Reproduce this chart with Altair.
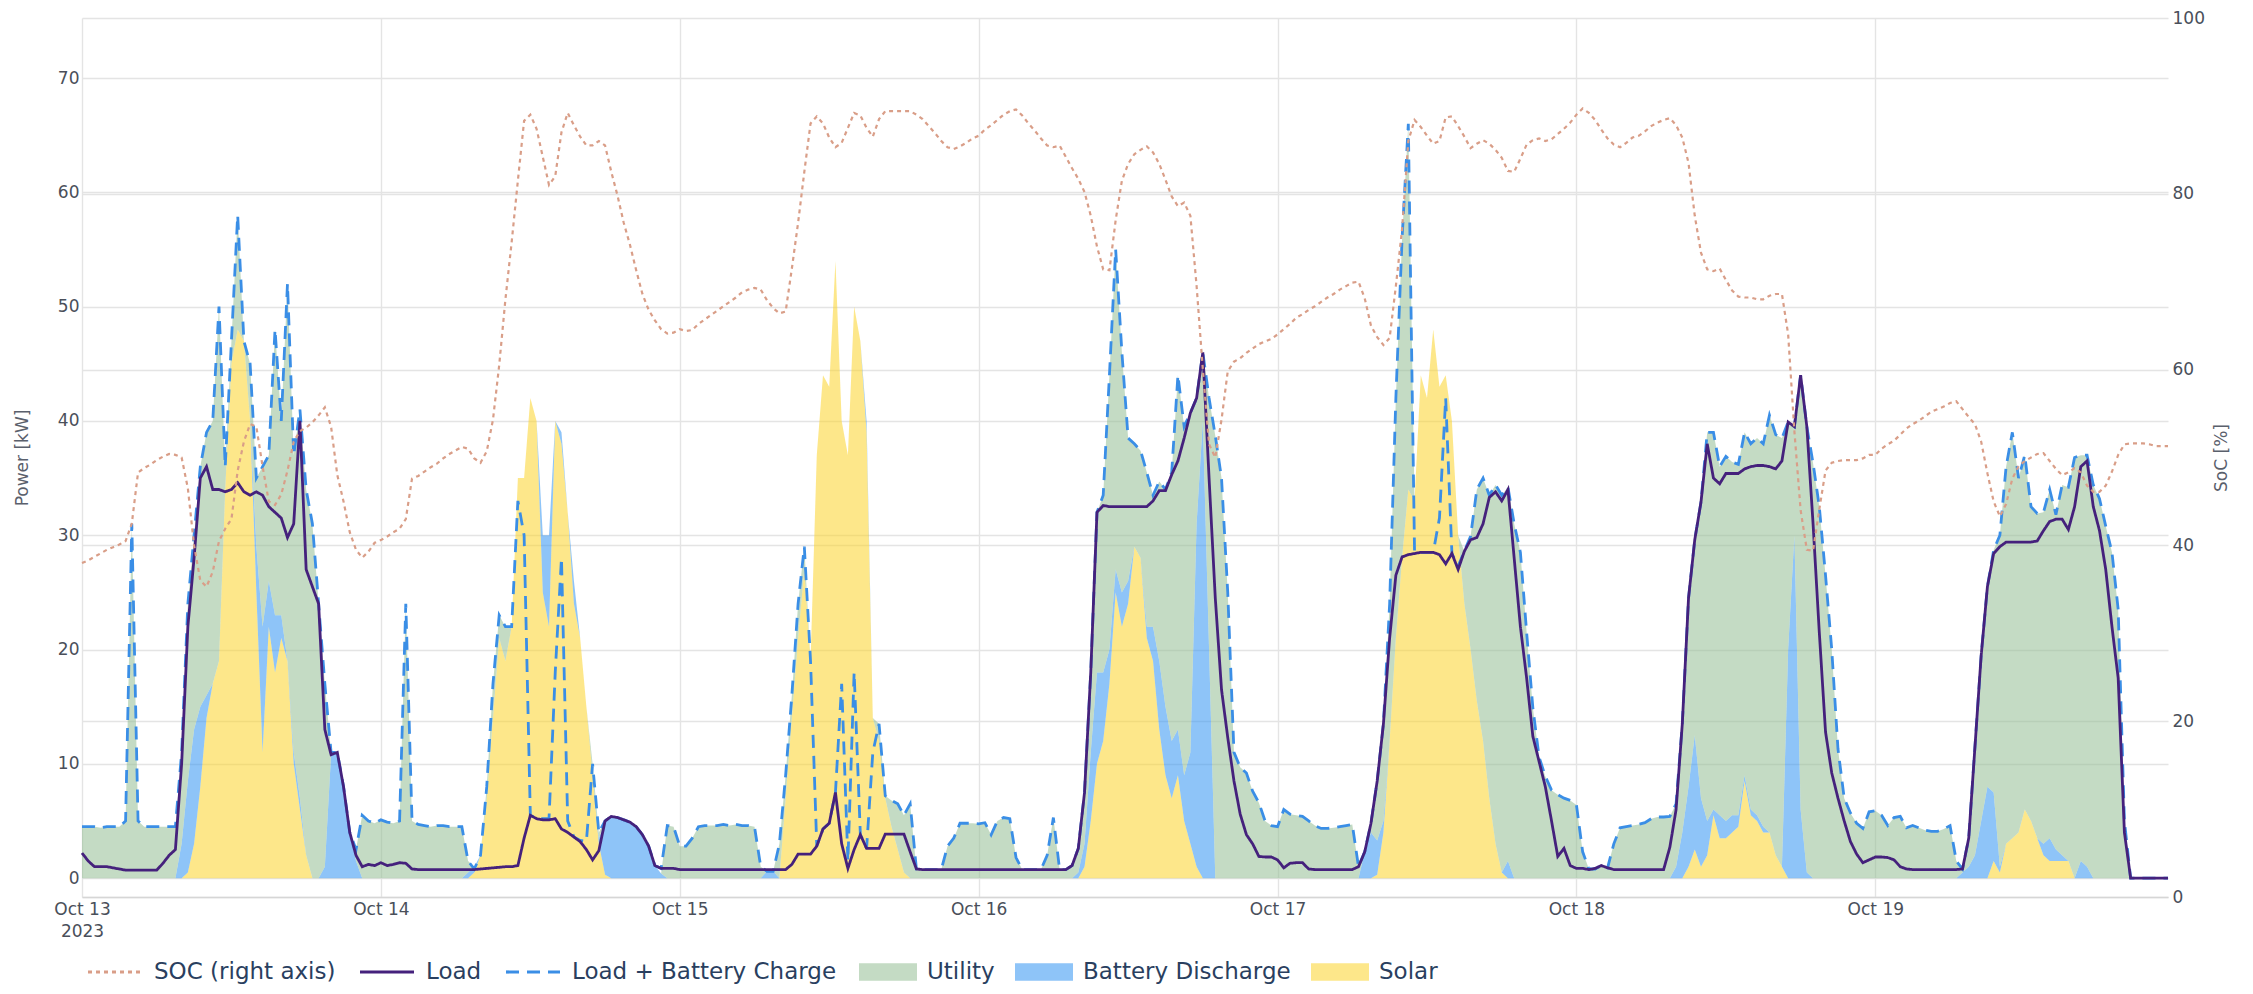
import altair as alt
import pandas as pd

# ---------------- data (half-hour samples, Oct 13 00:00 .. Oct 19 23:30) ----------------
load_plus_charge_kw = [
    # Oct 13
    [4.5,4.5,4.5,4.4,4.5,4.5,4.5,5.0,31,5.0,4.5,4.5,4.5,4.5,4.5,4.5,11,24,30,36,39,40,50,36,47,58,47,45,35,36,37,48,40,52,37,41,34,31,24,17,11,11,8,4,2.5,5.5,5.0,4.8],
    # Oct 14
    [5.1,4.9,4.8,5.0,24,5.0,4.7,4.6,4.5,4.6,4.6,4.5,4.5,4.5,1.5,0.8,2,8,17,23,22,22,33,30,5.5,5.2,5.2,5.2,18,28,5.0,3.6,3.3,3.2,10,4,5.0,5.4,5.3,5.1,4.9,4.5,3.8,2.8,1.1,0.85,4.6,4.5],
    # Oct 15
    [2.8,2.8,3.5,4.5,4.6,4.6,4.6,4.7,4.6,4.7,4.6,4.6,4.5,1.0,0.6,0.6,3,9,16,24,29,19,2.8,4.3,4.8,7.5,17,1.5,18,3.8,2.6,11,13.5,7.2,6.8,6.5,5.5,6.5,0.8,0.75,0.75,0.75,0.75,2.8,3.5,4.8,4.8,4.8],
    # Oct 16
    [4.75,4.85,3.8,5.0,5.3,5.2,1.8,0.75,0.75,0.75,0.75,2,5.3,0.75,0.75,1.1,2.6,7.5,18,32,33.5,44,55,46,38.5,38,37.4,35.5,33.5,34.7,34,35.5,44,39.5,40.7,42,46,42,38.7,35,25,11,9.7,9.2,7.6,6.6,5,4.6],
    # Oct 17
    [4.5,6,5.6,5.5,5.4,5,4.6,4.35,4.35,4.4,4.5,4.6,4.7,1.0,2.3,4.8,8.5,13.5,24,42,56,66,28.5,28.5,28.5,28.5,31.5,42,28.4,27.3,28.6,29.9,34,35,33.5,34.4,33.5,34.2,31,28.5,21.5,14.9,10.6,8.9,7.7,7.3,7,6.8],
    # Oct 18
    [6.4,2.3,0.8,0.8,1.1,0.9,3,4.4,4.5,4.6,4.7,4.85,5.2,5.35,5.35,5.4,6.5,13.5,24.5,29.6,32.9,39,39,36,36.9,36.4,36.2,39,38,38.5,38,40.5,38.8,38.5,39.9,39.5,44,39.5,36.3,32.5,26.5,20,11.3,7,5.7,4.8,4.35,5.8],
    # Oct 19
    [5.9,5.5,4.6,5.3,5.4,4.4,4.6,4.4,4.2,4.1,4.1,4.3,4.6,1.5,0.8,3.5,11.5,19.5,25.5,28.7,30,36,39,35,37,32.5,31.9,32,34,31.8,34.4,34.2,36.8,37,37,34.4,33.2,30.8,28.5,23.5,5,0,0,0,0,0,0,0],
]

load_kw = [
    [2.2,1.5,1.0,1.0,1.0,0.9,0.8,0.7,0.7,0.7,0.7,0.7,0.7,1.3,2.0,2.5,10,22,28,35,36,34,34,33.8,34,34.6,33.8,33.5,33.8,33.5,32.5,32,31.5,29.8,31,40,27,25.5,24,13,10.8,11,8,4,2,1.0,1.2,1.1],
    [1.35,1.1,1.2,1.35,1.3,0.8,0.75,0.75,0.75,0.75,0.75,0.75,0.75,0.75,0.75,0.75,0.8,0.85,0.9,0.95,1.0,1.0,1.1,3.5,5.5,5.2,5.1,5.1,5.2,4.3,4.0,3.6,3.2,2.5,1.6,2.4,5.0,5.4,5.3,5.1,4.9,4.5,3.8,2.8,1.1,0.85,0.85,0.85],
    [0.75,0.75,0.75,0.75,0.75,0.75,0.75,0.75,0.75,0.75,0.75,0.75,0.75,0.75,0.75,0.75,0.75,0.75,1.2,2.1,2.1,2.1,2.8,4.3,4.8,7.5,3,0.85,2.5,3.8,2.6,2.6,2.6,3.85,3.85,3.85,3.85,2.3,0.8,0.75,0.75,0.75,0.75,0.75,0.75,0.75,0.75,0.75],
    [0.75,0.75,0.75,0.75,0.75,0.75,0.75,0.75,0.75,0.75,0.75,0.75,0.75,0.75,0.75,1.1,2.6,7.5,18,32,32.6,32.5,32.5,32.5,32.5,32.5,32.5,32.5,33,33.9,33.9,35.3,36.5,38.5,40.7,42,46,35,24.5,16.5,12.3,8.5,5.6,3.8,3,1.9,1.85,1.85],
    [1.6,0.9,1.3,1.35,1.35,0.8,0.75,0.75,0.75,0.75,0.75,0.75,0.75,1.0,2.3,4.8,8.5,13.5,21,26.5,28.1,28.3,28.4,28.5,28.5,28.5,28.3,27.5,28.4,27,28.6,29.6,29.8,31,33.3,33.8,33,34,28,22,17.5,12.4,10.2,8,5,1.9,2.6,1.1],
    [0.85,0.85,0.75,0.85,1.1,0.9,0.75,0.75,0.75,0.75,0.75,0.75,0.75,0.75,0.75,2.7,6,13.5,24.5,29.6,32.9,38,35,34.5,35.4,35.4,35.4,35.8,36,36.1,36.1,36,35.8,36.5,39.9,39.5,44,39.5,31,21.5,12.8,9.2,7,5,3.2,2.1,1.35,1.6],
    [1.85,1.85,1.8,1.6,1.0,0.8,0.75,0.75,0.75,0.75,0.75,0.75,0.75,0.75,0.8,3.5,11.5,19.5,25.5,28.4,29,29.4,29.4,29.4,29.4,29.4,29.5,30.4,31.2,31.4,31.4,30.5,32.5,36,36.5,32.5,30.4,27,22,17.5,4,0,0,0,0,0,0,0],
]

solar_kw = [
    [0]*17 + [0.5,3,8,14,17,19,34,45,48,47,40,25,11,22,18,21,19,10,6,2] + [0]*11,
    [0]*15 + [0.5,2,7,14,21,19,22,35,35,42,40,25,22,40,38,32,24,21,15,9,3,0.3] + [0]*11,
    [0]*17 + [7,14,21,27,19,37,44,43,54,40,37,50,47,39,14,12,7,4.5,2.5,0.5] + [0]*11,
    [0]*17 + [1,5,10,12,17,25,22,24,29,28,21,19,13,9,7,9,5,3,1] + [0]*12,
    [0]*16 + [0.3,4,12,21,28,34,33,44,42,48,43,44,40,30,24,20,15.5,12,7,3,0.5] + [0]*11,
    [0]*18 + [1,2.5,1,2,5.5,3.5,3.5,4,4.5,8.5,5.5,5,4,4,2,1] + [0]*14,
    [0]*19 + [1.5,0.5,3,3.5,4,6,5,3.5,2,1.5,1.5,1.5,1.5] + [0]*16,
]

battery_discharge_kw = [
    [0]*16 + [3,8,10,7,2] + [0]*7 + [4,11,4,5,2,0,1,1] + [0,0,0] + [1,10.8,11,8,4,1.5] + [0,0,0],
    [0]*14 + [0.5,0.5] + [0]*10 + [5,8,0,1,0,2,0,0,0,0.5] + [4.5,5.4,5.3,5.1,4.9,4.5,3.8,2.8,1.1,0.4] + [0,0],
    [0]*13 + [0,0.6,0.6] + [0]*14 + [1] + [0]*17,
    [0]*16 + [0.5,2,6,8,6,3,2,3,2,0,0,1,3,6,6,5,4,4,8,30,40,20] + [0]*10,
    [0]*14 + [2.3,4,3,1] + [0]*19 + [1.5] + [0]*10,
    [0]*16 + [1,4,7,10,6,3,0.5,2,1.5,1.5,1,0.5,0.5,0.5,0.5,0,0,0,20,30,6,0.5] + [0]*10,
    [0]*14 + [0.5,1,2,5,8,6,0.5] + [0]*6 + [1,2,1,0.5] + [0]*2 + [1.5,1] + [0]*13,
]

utility_kw = [
    [4.5,4.5,4.5,4.4,4.5,4.5,4.5,5.0,31,5.0,4.5,4.5,4.5,4.5,4.5,4.5,8,15.5,17,21,23,23,31,2,2,10,0,5,6,14,11,25,17,33,26,34,32,31,24,16,0.2,0,0,0,1,5.5,5.0,4.8],
    [5.1,4.9,4.8,5.0,24,5.0,4.7,4.6,4.5,4.6,4.6,4.5,4.5,4.5,1.0,0,0,1,3,2,3,0,0,0,0,0,0,0,0,0,0,0,0,0,1,0.5,0.2,0,0,0,0,0,0,0,0,0,4.6,4.5],
    [2.8,2.8,3.5,4.5,4.6,4.6,4.6,4.7,4.6,4.7,4.6,4.6,4.5,1.0,0,0,3,2,2,3,2,0,0,0,0,0,0,0,0,0,0,0,1.5,0.2,2.3,4,5,6.5,0.8,0.75,0.75,0.75,0.75,2.8,3.5,4.8,4.8,4.8],
    [4.75,4.85,3.8,5.0,5.3,5.2,1.8,0.75,0.75,0.75,0.75,2,5.3,0.75,0.75,1.1,2.1,4.5,7,14,15.5,24,28,21,12.5,9,9.4,13.5,11.5,15.7,19,23.5,31,30.5,29.7,11,6,22,38.7,35,25,11,9.7,9.2,7.6,6.6,5,4.6],
    [4.5,6,5.6,5.5,5.4,5,4.6,4.35,4.35,4.4,4.5,4.6,4.7,1.0,0,0.8,5.2,8.5,12,21,28,32,0,0,0,0,0,0,0,0,4.6,9.9,18.5,23,26.5,31.4,33,32.7,31,28.5,21.5,14.9,10.6,8.9,7.7,7.3,7,6.8],
    [6.4,2.3,0.8,0.8,1.1,0.9,3,4.4,4.5,4.6,4.7,4.85,5.2,5.35,5.35,5.4,5.5,9.5,16.5,17.1,25.9,34,33,30.5,31.9,30.9,30.7,30,32,33,33.5,36.5,36.8,37.5,19.9,9.5,38,39,36.3,32.5,26.5,20,11.3,7,5.7,4.8,4.35,5.8],
    [5.9,5.5,4.6,5.3,5.4,4.4,4.6,4.4,4.2,4.1,4.1,4.3,4.6,1.5,0.3,2.5,9.5,14.5,17.5,21.2,29,33,35.5,31,31,27.5,28.4,29,30.5,29.3,32.4,32.7,36.8,35.5,36,34.4,33.2,30.8,28.5,23.5,5,0,0,0,0,0,0,0],
]

soc_pct = [
    [38,38.3,38.7,39.1,39.5,39.8,40.1,40.5,42.5,48.3,48.8,49.2,49.7,50.1,50.4,50.3,50,46.5,40,36,35.3,37,40.5,41.9,43,48.5,51.8,53.8,53.5,49,45,44.6,45.8,48.5,51.8,53,53.4,54,54.8,55.7,53.5,48,45,41.5,39.5,38.6,39.3,40.3],
    [40.6,41,41.5,41.9,43,47.6,47.9,48.4,48.9,49.3,49.9,50.4,50.8,51.2,51.0,49.9,49.4,50.7,54.3,60.5,68,74.5,81.5,88.3,89,87.4,84.2,81,82,87,89.2,87.8,86.5,85.5,85.5,86,85.5,82.5,79.8,76.7,74.2,71.3,68.6,66.8,65.6,64.6,64.1,64.2],
    [64.6,64.4,64.5,65.2,65.7,66.2,66.7,67.2,67.7,68.2,68.8,69.1,69.3,69.1,67.9,67,66.4,66.6,71.5,76.7,82.5,88,88.8,88,86.4,85.3,85.8,87.5,89.2,88.9,87.5,86.5,88.5,89.4,89.4,89.4,89.4,89.4,89,88.5,87.7,86.9,86,85.3,85.1,85.4,85.8,86.3],
    [86.6,87.3,87.8,88.4,89,89.4,89.6,88.9,88,87.2,86.3,85.5,85.3,85.5,84.2,82.9,81.7,80.2,77.5,74,71.4,71.3,77,81.5,83.4,84.5,85,85.4,84.7,83.4,81.6,79.7,78.6,79,77.5,69.5,60,51.5,50,54.3,59.8,60.9,61.3,61.9,62.4,62.9,63.2,63.5],
    [64,64.6,65.2,65.9,66.3,66.8,67.2,67.7,68.2,68.6,69.1,69.5,69.9,70,68.1,65,63.7,62.8,63.6,69.5,76,86,88.4,87.6,86.6,85.7,86,88.7,88.8,87.7,86.5,85.2,85.7,86.1,85.7,85,84.1,82.6,82.5,84,85.6,86.1,86.3,86,86.2,86.8,87.4,88.1],
    [89,89.7,89.2,88.4,87.3,86.3,85.6,85.3,85.8,86.4,86.6,87.1,87.7,88.1,88.4,88.6,87.8,86.4,83.5,77.5,73.3,71.4,71.2,71.5,70.2,69,68.3,68.2,68.2,68,68,68.4,68.6,68.6,64,53,44,39.5,39.4,44.1,48.5,49.4,49.6,49.7,49.7,49.7,49.9,50.3],
    [50.3,51,51.5,51.9,52.6,53.3,53.8,54.2,54.7,55.2,55.5,55.8,56.2,56.4,55.5,54.6,53.8,51.8,48.2,45,43.3,44.7,47.6,49,49.6,50,50.4,50.5,49.6,48.7,48,48.3,48.8,48.3,46.8,46.1,46.1,46.8,48.4,50.3,51.5,51.6,51.6,51.6,51.5,51.3,51.3,51.3],
]

AREA_NAMES = ["Utility", "Battery Discharge", "Solar"]
AREA_COLORS = ["#93bd93", "#3294f2", "#fbd32a"]
LINE_NAMES = ["SOC (right axis)", "Load", "Load + Battery Charge"]
LINE_COLORS = ["#d99e88", "#45217c", "#3a8ee6"]
LINE_DASHES = [[4, 4], [1, 0], [13, 8]]


def flat(days):
    return [v for d in days for v in d]


times = pd.date_range("2023-10-13 00:00", periods=7 * 48, freq="30min").strftime("%Y-%m-%dT%H:%M:%S")

area_frames = []
for order, (name, days) in enumerate([("Solar", solar_kw), ("Battery Discharge", battery_discharge_kw), ("Utility", utility_kw)]):
    area_frames.append(pd.DataFrame({"time": times, "series": name, "value": flat(days), "stack_order": order}))
area_df = pd.concat(area_frames, ignore_index=True)

lc_df = pd.DataFrame({"time": times, "series": "Load + Battery Charge", "value": flat(load_plus_charge_kw)})
load_df = pd.DataFrame({"time": times, "series": "Load", "value": flat(load_kw)})
soc_df = pd.DataFrame({"time": times, "series": "SOC (right axis)", "value": flat(soc_pct)})

# ---------------- styling ----------------
FONT = "DejaVu Sans"
GRID = "#e4e4e4"
TICK_COLOR = "#4a4f5a"
TITLE_COLOR = "#5a606c"
LEGEND_COLOR = "#2a3f5f"

x_enc = alt.X(
    "time:T",
    scale=alt.Scale(nice=False),
    axis=alt.Axis(
        title=None,
        values=[alt.DateTime(year=2023, month=10, date=d) for d in range(13, 20)],
        labelExpr="[timeFormat(datum.value, '%b %d'), timeFormat(datum.value, '%d') == '13' ? timeFormat(datum.value, '%Y') : '']",
        labelFlush=False,
        labelLineHeight=22,
        labelPadding=4,
        grid=True,
        gridColor=GRID,
        gridWidth=1.4,
        ticks=False,
        domain=True,
        domainColor="#d6d6d6",
        domainWidth=1.4,
    ),
)

left_scale = alt.Scale(domain=[-1.65, 75.25], nice=False, zero=False)
left_axis = alt.Axis(
    title="Power [kW]",
    values=[0, 10, 20, 30, 40, 50, 60, 70],
    grid=True,
    gridColor=GRID,
    gridWidth=1.4,
    ticks=False,
    domain=False,
    labelPadding=3,
    titlePadding=26,
)

stroke_legend = alt.Legend(
    orient="none", legendX=4, legendY=925, direction="horizontal", title=None,
    labelFont=FONT, labelFontSize=23, labelColor=LEGEND_COLOR, labelLimit=600,
    symbolSize=2916, symbolStrokeWidth=3.2, labelOffset=10, columnPadding=17,
)
fill_legend = alt.Legend(
    orient="none", legendX=777, legendY=925, direction="horizontal", title=None,
    labelFont=FONT, labelFontSize=23, labelColor=LEGEND_COLOR, labelLimit=600,
    symbolType="M-1,-0.3H1V0.3H-1Z", symbolSize=3364, symbolStrokeWidth=0,
    symbolOpacity=0.55, labelOffset=10, columnPadding=20,
)

stroke_enc = alt.Stroke("series:N", scale=alt.Scale(domain=LINE_NAMES, range=LINE_COLORS), legend=stroke_legend)
dash_enc = alt.StrokeDash("series:N", scale=alt.Scale(domain=LINE_NAMES, range=LINE_DASHES), legend=stroke_legend)

areas = alt.Chart(area_df).mark_area(opacity=0.55, interpolate="linear").encode(
    x=x_enc,
    y=alt.Y("value:Q", stack="zero", scale=left_scale, axis=left_axis),
    fill=alt.Fill("series:N", scale=alt.Scale(domain=AREA_NAMES, range=AREA_COLORS), legend=fill_legend),
    order=alt.Order("stack_order:Q", sort="ascending"),
)

lc_line = alt.Chart(lc_df).mark_line(strokeWidth=2.8).encode(
    x=x_enc,
    y=alt.Y("value:Q", scale=left_scale, axis=left_axis),
    stroke=stroke_enc,
    strokeDash=dash_enc,
)

load_line = alt.Chart(load_df).mark_line(strokeWidth=2.8).encode(
    x=x_enc,
    y=alt.Y("value:Q", scale=left_scale, axis=left_axis),
    stroke=stroke_enc,
    strokeDash=dash_enc,
)

soc_line = alt.Chart(soc_df).mark_line(strokeWidth=2.2).encode(
    x=x_enc,
    y=alt.Y(
        "value:Q",
        scale=alt.Scale(domain=[0, 100], nice=False),
        axis=alt.Axis(
            orient="right",
            title="SoC [%]",
            values=[0, 20, 40, 60, 80, 100],
            grid=True,
            gridColor=GRID,
            gridWidth=1.4,
            ticks=False,
            domain=False,
            labelPadding=4,
            titleAngle=270,
            titlePadding=26,
        ),
    ),
    stroke=stroke_enc,
    strokeDash=dash_enc,
)

left = alt.layer(areas, lc_line, load_line)
chart = (
    alt.layer(left, soc_line)
    .resolve_scale(y="independent")
    .properties(
        width=2086,
        height=879,
        padding={"left": 74, "top": 10, "right": 70, "bottom": 88},
        autosize=alt.AutoSizeParams(type="none"),
        background="white",
    )
    .configure_view(strokeWidth=0)
    .configure_axis(
        labelFont=FONT,
        labelFontSize=17,
        labelColor=TICK_COLOR,
        titleFont=FONT,
        titleFontSize=17,
        titleFontWeight="normal",
        titleColor=TITLE_COLOR,
    )
)

chart.save("out.html", embed_options={"renderer": "svg", "actions": False})
